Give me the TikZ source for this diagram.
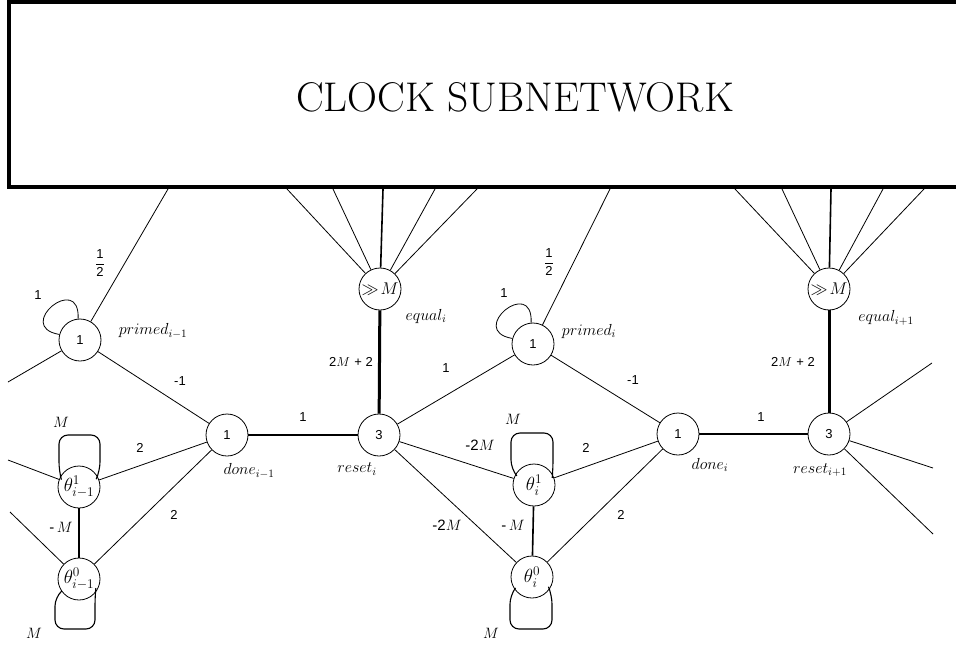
\RequirePackage{fix-cm}
\documentclass[tikz,border=0pt]{standalone}
\usepackage{fontspec}
\setsansfont{Liberation Sans}
\begin{document}
\begin{tikzpicture}[x=1pt,y=-1pt,
  nd/.style={circle,draw,line width=0.8pt,minimum size=42pt,inner sep=0pt,font=\fontsize{13}{15}\selectfont\sffamily},
  lbl/.style={inner sep=0pt,font=\fontsize{13}{15}\selectfont\sffamily},
  mlbl/.style={inner sep=0pt,font=\fontsize{15}{17}\selectfont},
  nlbl/.style={inner sep=0pt,font=\fontsize{16}{18}\selectfont},
  wire/.style={line width=0.8pt},
  midw/.style={line width=1.6pt},
  heavyA/.style={line width=2.2pt},
  heavyB/.style={line width=3pt},
  loopw/.style={line width=1.1pt,rounded corners=9pt}]
\useasboundingbox (0,0) rectangle (956,645);
% clock box
\draw[line width=4pt] (956,2) -- (9,2) -- (9,187) -- (956,187);
\node[inner sep=0pt,font=\fontsize{41.5}{44}\selectfont] (clock) at (515,97) {CLOCK SUBNETWORK};
% box attachment points
\coordinate (cA) at (168,189);
\coordinate (cB) at (610,189);
\coordinate (e1) at (287,189);
\coordinate (e2) at (333,189);
\coordinate (e3) at (383,189);
\coordinate (e4) at (435,189);
\coordinate (e5) at (477,189);
\coordinate (f1) at (735,189);
\coordinate (f2) at (782,189);
\coordinate (f3) at (831,189);
\coordinate (f4) at (883,189);
\coordinate (f5) at (924,189);
% loose ends
\coordinate (lA) at (8,382);
\coordinate (lB) at (8,460);
\coordinate (lC) at (10,512);
\coordinate (rA) at (932,363);
\coordinate (rB) at (933,468);
\coordinate (rC) at (933,534);
% nodes
\node[nd] (pmA) at (80,340) {1};
\node[nd] (doneA) at (227,435) {1};
\node[nd] (resetB) at (379,435) {3};
\node[nd,font=\fontsize{17}{19}\selectfont] (eqB) at (380,289) {$\gg\!M$};
\node[nd] (pmB) at (533,344) {1};
\node[nd,font=\fontsize{19}{21}\selectfont] (t1A) at (79,487) {$\theta^1_{i-1}$};
\node[nd,font=\fontsize{19}{21}\selectfont] (t0A) at (79,579) {$\theta^0_{i-1}$};
\node[nd,font=\fontsize{19}{21}\selectfont] (t1B) at (534,485) {$\theta^1_i$};
\node[nd,font=\fontsize{19}{21}\selectfont] (t0B) at (532,577) {$\theta^0_i$};
\node[nd] (doneB) at (678,434) {1};
\node[nd] (resetC) at (829,434) {3};
\node[nd,font=\fontsize{17}{19}\selectfont] (eqC) at (829,289) {$\gg\!M$};
% connectors from box
\draw[wire] (cA) -- (pmA);
\draw[wire] (cB) -- (pmB);
\draw[wire] (e1) -- (eqB);
\draw[wire] (e2) -- (eqB);
\draw[midw] (e3) -- (eqB);
\draw[wire] (e4) -- (eqB);
\draw[wire] (e5) -- (eqB);
\draw[wire] (f1) -- (eqC);
\draw[wire] (f2) -- (eqC);
\draw[midw] (f3) -- (eqC);
\draw[wire] (f4) -- (eqC);
\draw[wire] (f5) -- (eqC);
% heavy connectors
\draw[heavyB] (eqB) -- (resetB);
\draw[heavyB] (eqC) -- (resetC);
\draw[heavyA] (doneA) -- (resetB);
\draw[heavyA] (doneB) -- (resetC);
% left group
\draw[wire] (pmA) -- (doneA);
\draw[wire] (pmA) -- (lA);
\draw[wire] (t1A) -- (doneA);
\draw[wire] (t0A) -- (doneA);
\draw[wire] (t1A) -- (lB);
\draw[wire] (t0A) -- (lC);
\draw[midw] (t1A) -- (t0A);
% middle group
\draw[wire] (resetB) -- (pmB);
\draw[wire] (resetB) -- (t1B);
\draw[wire] (resetB) -- (t0B);
\draw[midw] (t1B) -- (t0B);
\draw[wire] (t1B) -- (doneB);
\draw[wire] (t0B) -- (doneB);
\draw[wire] (pmB) -- (doneB);
% right group
\draw[wire] (resetC) -- (rA);
\draw[wire] (resetC) -- (rB);
\draw[wire] (resetC) -- (rC);
% self loops
\draw[wire] (pmA.165) .. controls +(-46,-8) and +(2,-47) .. (pmA.95);
\draw[wire] (pmB.165) .. controls +(-46,-8) and +(2,-47) .. (pmB.95);
\draw[loopw] (t1A.150) -- (59,471) -- (59,435) -- (100,435) -- (100,471) -- (t1A.30);
\draw[loopw] (t1B.150) -- (511,469) -- (511,433) -- (553,433) -- (553,469) -- (t1B.30);
\draw[loopw] (t0A.215) -- (55,597) -- (55,629) -- (95,629) -- (95,597) -- (t0A.-40);
\draw[loopw] (t0B.215) -- (510,595) -- (510,629) -- (552,629) -- (552,595) -- (t0B.-35);
% weight labels
\node[lbl] (w1) at (38,295) {1};
\node[lbl] (w2) at (100,263) {$\displaystyle\frac{\textsf{1}}{\textsf{2}}$};
\node[lbl] (w3) at (180,381) {-1};
\node[lbl] (w4) at (140,448) {2};
\node[lbl] (w5) at (174,515) {2};
\node[mlbl] (w6) at (61,527) {\textsf{-}\,$M$};
\node[mlbl] (w7) at (61,422) {$M$};
\node[mlbl] (w8) at (34,633) {$M$};
\node[lbl] (w9) at (303,417) {1};
\node[mlbl] (w10) at (351,362) {\fontsize{13}{15}\selectfont\textsf{2}$M$ \textsf{+ 2}};
\node[lbl] (w11) at (446,368) {1};
\node[lbl] (w12) at (549,262) {$\displaystyle\frac{\textsf{1}}{\textsf{2}}$};
\node[lbl] (w13) at (504,293) {1};
\node[mlbl] (w14) at (480,445) {\textsf{-2}$M$};
\node[mlbl] (w15) at (447,525) {\textsf{-2}$M$};
\node[mlbl] (w16) at (513,525) {\textsf{-}\,$M$};
\node[mlbl] (w17) at (513,419) {$M$};
\node[mlbl] (w18) at (491,633) {$M$};
\node[lbl] (w19) at (586,448) {2};
\node[lbl] (w20) at (621,515) {2};
\node[lbl] (w21) at (633,380) {-1};
\node[lbl] (w22) at (761,417) {1};
\node[mlbl] (w23) at (793,362) {\fontsize{13}{15}\selectfont\textsf{2}$M$ \textsf{+ 2}};
% node names
\node[nlbl] (n1) at (153,331) {$primed_{i-1}$};
\node[nlbl] (n2) at (249,471) {$done_{i-1}$};
\node[nlbl] (n3) at (357,469) {$reset_i$};
\node[nlbl] (n4) at (426,316) {$equal_i$};
\node[nlbl] (n5) at (589,331) {$primed_i$};
\node[nlbl] (n6) at (710,465) {$done_i$};
\node[nlbl] (n7) at (820,470) {$reset_{i+1}$};
\node[nlbl] (n8) at (886,318) {$equal_{i+1}$};
\end{tikzpicture}
\end{document}
